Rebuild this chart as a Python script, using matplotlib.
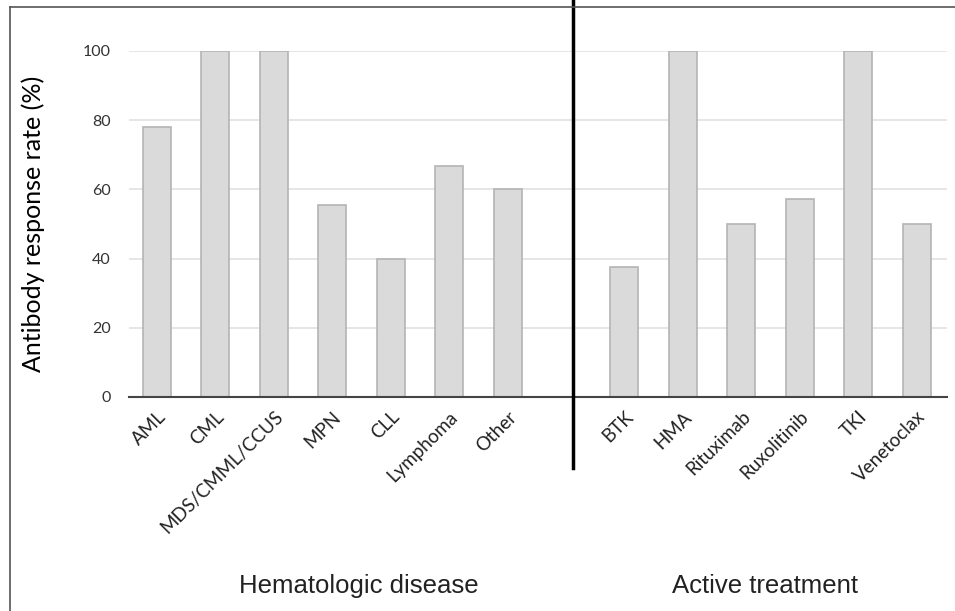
import numpy as np
import matplotlib.pyplot as plt
from matplotlib.lines import Line2D

disease_labels = ["AML", "CML", "MDS/CMML/CCUS", "MPN", "CLL", "Lymphoma", "Other"]
disease_rates = [78, 100, 100, 55.5, 40, 66.7, 60]
treatment_labels = ["BTK", "HMA", "Rituximab", "Ruxolitinib", "TKI", "Venetoclax"]
treatment_rates = [37.5, 100, 50, 57.1, 100, 50]
y_ticks = [0, 20, 40, 60, 80, 100]

plt.rcParams['font.family'] = ['Lato', 'DejaVu Sans']

fig = plt.figure(figsize=(9.55, 6.11), dpi=100)
ax = fig.add_axes([129 / 955, 1 - 397 / 611, (947 - 129) / 955, (397 - 51) / 611])

# diseases at 0..6, one empty slot, treatments at 8..13
x_dis = np.arange(len(disease_labels))
x_trt = np.arange(len(treatment_labels)) + len(disease_labels) + 1
xs = np.concatenate([x_dis, x_trt])
vals = disease_rates + treatment_rates
labels = disease_labels + treatment_labels

ax.bar(xs, vals, width=0.48, color='#dadada', edgecolor='#b4b4b4', linewidth=1.2, zorder=3)

ax.set_xlim(-0.48, xs[-1] + 0.52)
ax.set_ylim(0, 100)
ax.set_yticks(y_ticks)
ax.yaxis.grid(True, color='#e2e2e2', linewidth=1.2, zorder=0)
ax.tick_params(axis='y', length=0, pad=13, labelsize=11.5, labelcolor='#333333')
ax.set_xticks(xs)
ax.set_xticklabels(labels, rotation=45, ha='right', rotation_mode='anchor', fontsize=13.5, color='#222222')
ax.tick_params(axis='x', length=0, pad=8)
for s in ['top', 'right', 'left']:
    ax.spines[s].set_visible(False)
ax.spines['bottom'].set_color('#444444')
ax.spines['bottom'].set_linewidth(1.5)
ax.spines['bottom'].set_zorder(4)

ax.set_ylabel("Antibody response rate (%)", fontsize=18)
ax.yaxis.set_label_coords(-0.103, 0.5)

# vertical divider between the two groups
div_x = len(disease_labels) + 0.12
ax.plot([div_x, div_x], [-20.5, 130], color='black', linewidth=2.5, clip_on=False, zorder=5)

group_font = ['Liberation Sans', 'DejaVu Sans']
fig.text(359 / 955, 1 - 586 / 611, "Hematologic disease", ha='center', va='center',
         fontsize=18.5, color='#222222', family=group_font)
fig.text(765 / 955, 1 - 586 / 611, "Active treatment", ha='center', va='center',
         fontsize=18.5, color='#222222', family=group_font)

# outer frame (left and top edges are visible in the reference)
fx0, fy1 = 9.5 / 955, 1 - 6.5 / 611
fig.add_artist(Line2D([fx0, fx0], [0, fy1], transform=fig.transFigure, color='#555555', linewidth=1.2))
fig.add_artist(Line2D([fx0, 1], [fy1, fy1], transform=fig.transFigure, color='#555555', linewidth=1.2))

fig.savefig("out.png", dpi=100)
